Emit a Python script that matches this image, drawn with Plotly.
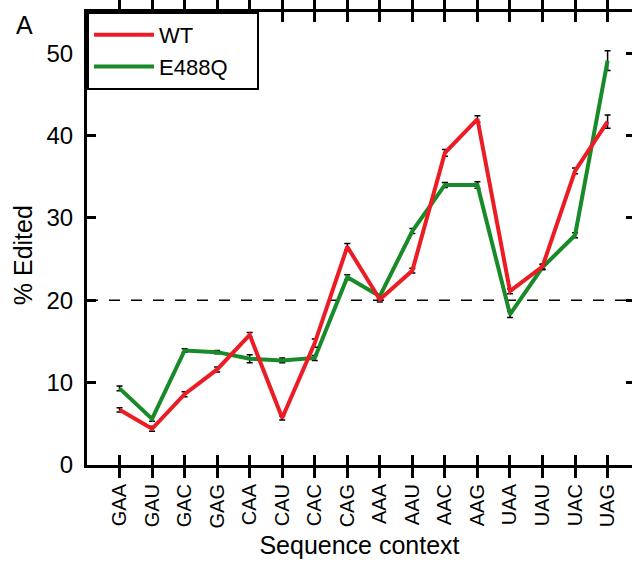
import plotly.graph_objects as go

categories = ["GAA", "GAU", "GAC", "GAG", "CAA", "CAU", "CAC", "CAG",
              "AAA", "AAU", "AAC", "AAG", "UAA", "UAU", "UAC", "UAG"]
wt_values = [6.7, 4.4, 8.6, 11.6, 15.8, 5.7, 14.8, 26.5,
             20.1, 23.6, 37.9, 42.0, 21.1, 24.1, 35.7, 41.7]
wt_errors = [0.25, 0.3, 0.3, 0.3, 0.3, 0.25, 0.5, 0.4,
             0.3, 0.3, 0.4, 0.4, 0.3, 0.3, 0.35, 0.8]
mut_values = [9.3, 5.6, 13.9, 13.7, 12.9, 12.7, 13.0, 22.8,
              20.5, 28.4, 34.0, 34.0, 18.3, 24.0, 27.9, 49.1]
mut_errors = [0.3, 0.3, 0.2, 0.2, 0.5, 0.3, 0.3, 0.3,
              0.3, 0.3, 0.3, 0.4, 0.4, 0.3, 0.3, 1.2]
y_ticks = [0, 10, 20, 30, 40, 50]
threshold = 20

RED = "#ec1c24"
GREEN = "#188a2a"
FONT = "Liberation Sans, Arial, sans-serif"
PAD = "\u00a0" * 4  # invisible padding to widen the legend box

x_idx = list(range(len(categories)))

fig = go.Figure()
fig.add_trace(go.Scatter(
    x=x_idx, y=mut_values, mode="lines", name="E488Q" + PAD,
    line=dict(color=GREEN, width=4),
    error_y=dict(type="data", array=mut_errors, color="black", thickness=1.5, width=3),
))
fig.add_trace(go.Scatter(
    x=x_idx, y=wt_values, mode="lines", name="WT",
    line=dict(color=RED, width=4),
    error_y=dict(type="data", array=wt_errors, color="black", thickness=1.5, width=3),
))
# invisible trace to carry the right-side ticks
fig.add_trace(go.Scatter(x=[x_idx[0]], y=[y_ticks[0]], yaxis="y2", mode="markers",
                         marker=dict(opacity=0), showlegend=False, hoverinfo="skip"))

fig.add_shape(type="line", xref="paper", x0=0, x1=1, yref="y", y0=threshold, y1=threshold,
              line=dict(color="black", width=1.5, dash="11px,11px"), layer="below")

fig.update_layout(
    width=632, height=562,
    margin=dict(l=87, r=0, t=12, b=97),
    plot_bgcolor="white", paper_bgcolor="white",
    font=dict(family=FONT, color="black"),
    showlegend=True,
    legend=dict(
        x=0, y=1, xanchor="left", yanchor="top",
        bgcolor="white", bordercolor="black", borderwidth=2,
        font=dict(size=22, family=FONT), traceorder="reversed",
        itemwidth=60, tracegroupgap=0,
    ),
    xaxis=dict(
        range=[-1, 15.75], tickmode="array", tickvals=x_idx, ticktext=categories,
        tickangle=-90, tickfont=dict(size=20), ticks="inside", ticklen=10, tickwidth=2.5,
        tickcolor="black", showline=True, linecolor="black", linewidth=3,
        mirror="allticks", showgrid=False, zeroline=False, ticklabelstandoff=8,
        title=dict(text="Sequence context", font=dict(size=25), standoff=10),
    ),
    yaxis=dict(
        range=[0, 55], tickvals=y_ticks, tickfont=dict(size=24), ticks="inside",
        ticklen=9, tickwidth=2.5, tickcolor="black", showline=True, linecolor="black",
        linewidth=3, mirror=False, showgrid=False, zeroline=False, ticklabelstandoff=6,
    ),
    yaxis2=dict(
        range=[0, 55], tickvals=y_ticks[1:], overlaying="y", side="right",
        ticks="inside", ticklen=6, tickwidth=2.5, tickcolor="black", showticklabels=False,
        showline=False, showgrid=False, zeroline=False,
    ),
    annotations=[
        dict(text="% Edited", textangle=-90, xref="paper", yref="paper",
             x=-0.117, y=0.4636, showarrow=False, font=dict(size=25),
             xanchor="center", yanchor="middle"),
        dict(text="A", xref="paper", yref="paper", x=-0.114, y=0.971,
             showarrow=False, font=dict(size=25), xanchor="center", yanchor="middle"),
    ],
)

fig.write_html("out.html")
